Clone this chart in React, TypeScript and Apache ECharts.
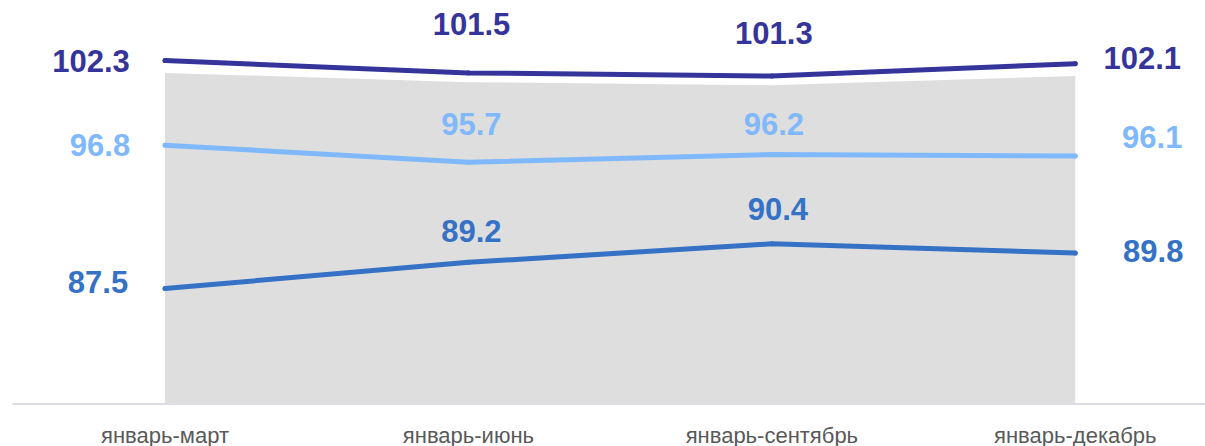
import React, { useEffect, useRef } from "react";
import * as echarts from "echarts";

const categories = ["январь-март", "январь-июнь", "январь-сентябрь", "январь-декабрь"];
const seriesTop = [102.3, 101.5, 101.3, 102.1];
const seriesMid = [96.8, 95.7, 96.2, 96.1];
const seriesLow = [87.5, 89.2, 90.4, 89.8];
const backgroundArea = [101.5, 100.9, 100.7, 101.3];

// label placement (styling only)
const topOffsets = [[-74, 1], [3, -48], [2, -42], [67, -5]];
const midOffsets = [[-65, 0], [3, -38], [2, -30], [77, -19]];
const lowOffsets = [[-67, -6], [3, -31], [6, -34], [78, -2]];

const FONT = "'Liberation Sans', Arial, Helvetica, sans-serif";

function lineSeries(name: string, values: number[], color: string, offsets: number[][]) {
  return {
    name,
    type: "line",
    data: values.map((v, i) => ({
      value: v,
      label: { offset: offsets[i] },
    })),
    symbol: "circle",
    symbolSize: 5,
    itemStyle: { color },
    lineStyle: { color, width: 5, cap: "round", join: "round" },
    label: {
      show: true,
      position: "inside",
      color,
      fontFamily: FONT,
      fontSize: 31,
      fontWeight: "bold",
      formatter: (p: any) => (p.value as number).toFixed(1),
    },
    z: 3,
  };
}

export default function App() {
  const ref = useRef<HTMLDivElement>(null);
  useEffect(() => {
    document.body.style.margin = "0";
    document.body.style.overflow = "hidden";
    const chart = echarts.init(ref.current!, null, { renderer: "svg" });
    chart.setOption({
      animation: false,
      grid: { left: 13.3, top: 19, bottom: 41, right: 0, containLabel: false },
      xAxis: {
        type: "category",
        data: categories,
        boundaryGap: true,
        axisLine: { show: true, lineStyle: { color: "#dcdce4", width: 2 } },
        axisTick: { show: false },
        axisLabel: { color: "#595959", fontSize: 22, fontFamily: FONT, margin: 20 },
        splitLine: { show: false },
      },
      yAxis: {
        type: "value",
        min: 80,
        max: 105,
        show: false,
        splitLine: { show: false },
      },
      series: [
        {
          name: "background",
          type: "line",
          data: backgroundArea,
          symbol: "none",
          lineStyle: { width: 0, opacity: 0 },
          areaStyle: { color: "#dedede", opacity: 1, origin: "start" },
          silent: true,
          z: 1,
        },
        lineSeries("top", seriesTop, "#35349a", topOffsets),
        lineSeries("mid", seriesMid, "#7fb9fb", midOffsets),
        lineSeries("low", seriesLow, "#3572c6", lowOffsets),
      ],
    });
    return () => chart.dispose();
  }, []);
  return (
    <div style={{ width: 1205, height: 446, overflow: "hidden", position: "relative" }}>
      <div ref={ref} style={{ width: 1227, height: 446 }} />
    </div>
  );
}
